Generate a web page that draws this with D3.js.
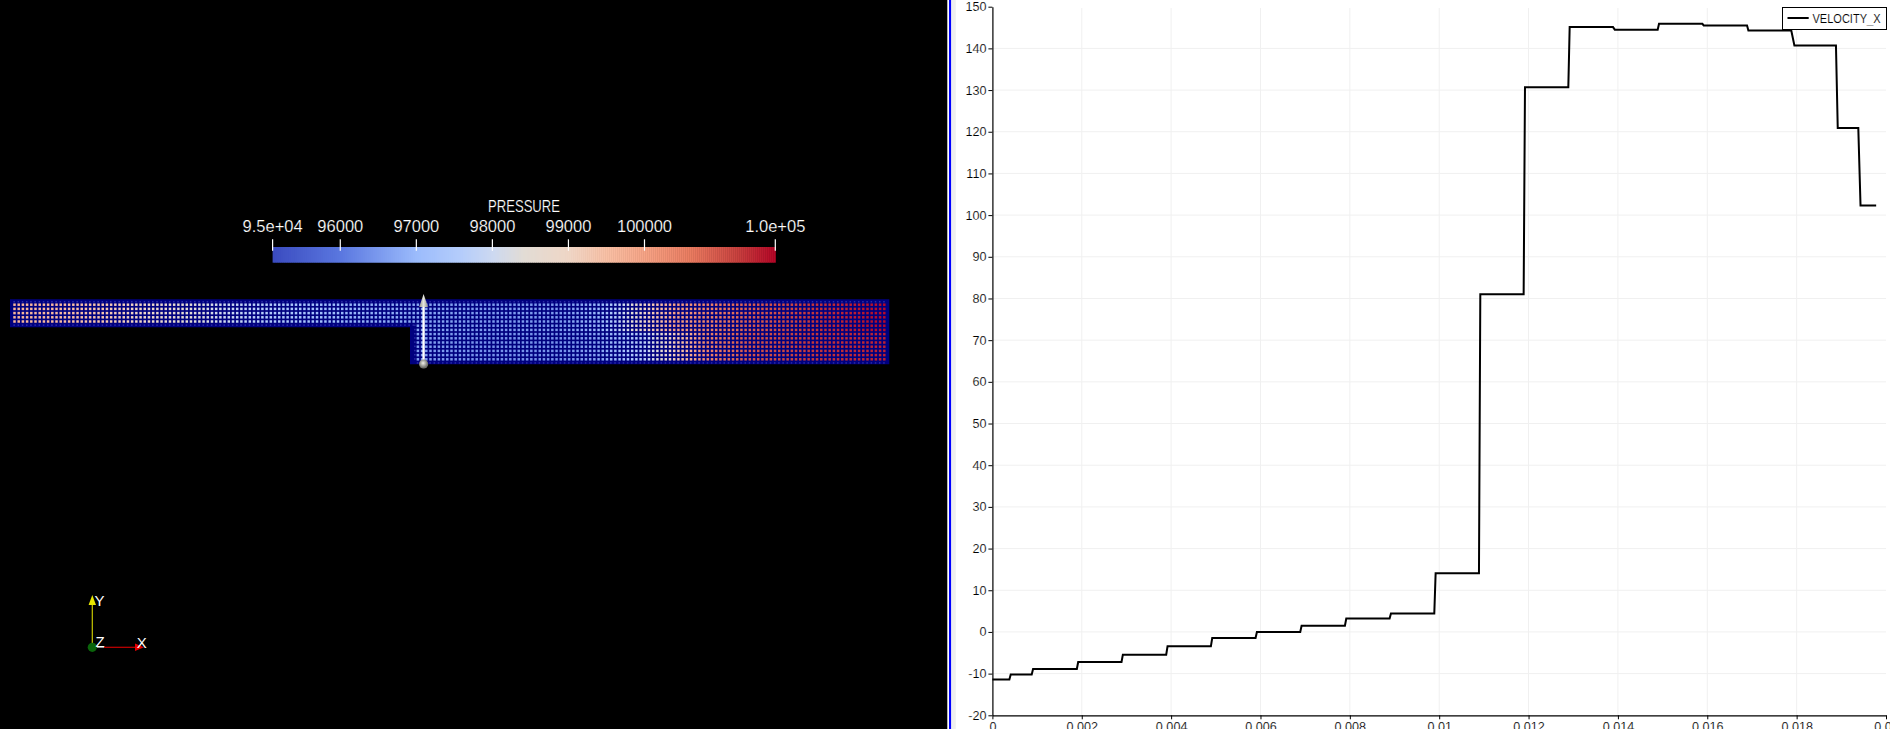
<!DOCTYPE html>
<html><head><meta charset="utf-8">
<script src="https://cdn.jsdelivr.net/npm/d3@7/dist/d3.min.js"></script>
<style>html,body{margin:0;padding:0;background:#000;overflow:hidden}svg{display:block}
text{font-family:"Liberation Sans",sans-serif}</style></head><body>
<svg id="c" width="1890" height="729"></svg>
<script>
// ---- line chart data ----
const stepStart=[0,.00041,.00091,.00192,.00292,.00392,.00492,.00592,.00692,.00792,.00892,.00992,.01092,.01192,.01292,.01393,.01492,.01592,.01692,.01795,.01892,.01943];
const stepEnd=[.00038,.00088,.00189,.00289,.00389,.00489,.00589,.00689,.00789,.00889,.00989,.01089,.01189,.01289,.01389,.01489,.01589,.01689,.01788,.01888,.01938,.01978];
const velocityX=[-11.4,-10.2,-8.9,-7.2,-5.45,-3.45,-1.45,0,1.5,3.2,4.4,14.05,81,130.7,145.1,144.5,145.9,145.5,144.3,140.7,120.9,102.3];
const xTicks=[0,.002,.004,.006,.008,.01,.012,.014,.016,.018,.02];
const yTicks=[-20,-10,0,10,20,30,40,50,60,70,80,90,100,110,120,130,140,150];
const seriesName="VELOCITY_X";
// ---- colour bar data ----
const colorTitle="PRESSURE";
const barMin=95110, barMax=101720;
const barTicks=[95110,96000,97000,98000,99000,100000,101720];
const barLabels=["9.5e+04","96000","97000","98000","99000","100000","1.0e+05"];
const cmapP=[95110,96000,97000,97580,98000,98400,99000,99500,100000,100600,101200,101720];
const cmapC=["#3b4cc0","#5b78e0","#9cbcfc","#b5cdfb","#cdd9f0","#e2dcd5","#efd6c6","#f8bfa4","#f6a385","#ea7b60","#c9423f","#b40426"];
// ---- mesh pressure estimates, per station along the channel (station = column) ----
const nCols=208, upperRows=5, totalRows=14, stepCol=95;
const stationCol=[0,10,20,30,40,50,60,80,94,110,130,140,150,157,165,175,190,208];
const pressureUp=[99700,99600,99400,99000,98500,98000,97500,96900,96700,96500,96500,97000,99000,100000,100500,100900,101300,101700];
const pressureLow=[99400,99300,99000,98600,98100,97700,97200,96800,96600,96400,96400,96700,97700,99200,100500,101000,101300,101500];

const svg=d3.select("#c");
const W=1890,H=729;
// right panel
svg.append("rect").attr("x",947.3).attr("y",0).attr("width",W-947.3).attr("height",H).attr("fill","#fff");
svg.append("rect").attr("x",949).attr("y",0).attr("width",2.3).attr("height",H).attr("fill","#0000ff");
svg.append("rect").attr("x",951.3).attr("y",0).attr("width",4.5).attr("height",H).attr("fill","#efefef");

const x=d3.scaleLinear().domain([0,.02]).range([992.4,1886]);
const y=d3.scaleLinear().domain([-20,150]).range([715.3,6.7]);
const gridG=svg.append("g");
gridG.selectAll("line.v").data(xTicks.slice(1,-1)).join("line").attr("x1",d=>x(d)).attr("x2",d=>x(d)).attr("y1",8).attr("y2",715).attr("stroke","#f0f0f0").attr("stroke-width",1);
gridG.selectAll("line.h").data(yTicks.slice(1,-1)).join("line").attr("y1",d=>y(d)).attr("y2",d=>y(d)).attr("x1",992).attr("x2",1886).attr("stroke","#f0f0f0").attr("stroke-width",1);
const gx=svg.append("g").attr("transform","translate(0,715.3)").call(d3.axisBottom(x).tickValues(xTicks).tickFormat(d=>String(d)).tickSize(4).tickPadding(2.5).tickSizeOuter(0));
const gy=svg.append("g").attr("transform","translate(992.4,0)").call(d3.axisLeft(y).tickValues(yTicks).tickFormat(d=>String(d)).tickSize(4).tickPadding(2).tickSizeOuter(0));
[gx,gy].forEach(g=>{g.attr("font-family",'"Liberation Sans",sans-serif').attr("font-size",12.6);g.selectAll("text").attr("fill","#000").attr("stroke","#fff").attr("stroke-width",.15);g.selectAll("line").attr("stroke","#000").attr("stroke-width",1);g.select(".domain").attr("stroke","#000").attr("stroke-width",1.2)});

const pts=[];velocityX.forEach((v,i)=>{pts.push([stepStart[i],v]);pts.push([stepEnd[i],v])});
svg.append("path").attr("d",d3.line().x(d=>x(d[0])).y(d=>y(d[1]))(pts)).attr("fill","none").attr("stroke","#000").attr("stroke-width",2);

// legend
const lg=svg.append("g");
lg.append("rect").attr("x",1782.5).attr("y",7.5).attr("width",104).attr("height",22).attr("fill","#fff").attr("stroke","#000").attr("stroke-width",1);
lg.append("line").attr("x1",1787.5).attr("x2",1808.7).attr("y1",18).attr("y2",18).attr("stroke","#000").attr("stroke-width",2);
lg.append("text").attr("x",1812.5).attr("y",22.6).attr("font-size",12.6).attr("fill","#000").attr("stroke","#fff").attr("stroke-width",.15).attr("textLength",68).attr("lengthAdjust","spacingAndGlyphs").text(seriesName);

// colour map
const cmap=d3.scaleLinear().domain(cmapP).range(cmapC).interpolate(d3.interpolateRgb).clamp(true);
const barX=d3.scaleLinear().domain([barMin,barMax]).range([272.6,775.3]);
const barSteps=d3.range(0,252).map(i=>barMin+(barMax-barMin)*i/251);
svg.append("g").selectAll("rect").data(barSteps.slice(0,-1)).join("rect")
 .attr("x",d=>barX(d)).attr("y",247).attr("width",2.5).attr("height",15.7).attr("fill",d=>cmap(d));
svg.append("text").attr("x",524).attr("y",212.3).attr("text-anchor","middle").attr("fill","#fff").attr("stroke","#000").attr("stroke-width",.2).attr("font-size",17).attr("textLength",72).attr("lengthAdjust","spacingAndGlyphs").text(colorTitle);
const bt=svg.append("g").selectAll("g").data(barTicks).join("g").attr("transform",d=>`translate(${barX(d)},0)`);
bt.append("line").attr("y1",239.3).attr("y2",250.7).attr("stroke","#fff").attr("stroke-width",1.2);
bt.append("text").data(barLabels).attr("y",232).attr("text-anchor","middle").attr("fill","#fff").attr("stroke","#000").attr("stroke-width",.2).attr("font-size",16.5).text(d=>d);

// mesh
const meshG=svg.append("g");
const navy="#00007f";
meshG.append("path").attr("d","M10,299.3H889.3V364.3H410V327.3H10Z").attr("fill",navy);
const colX=d3.scaleLinear().domain([0,nCols]).range([12.4,886.4]);
const rowY=d3.scaleLinear().domain([0,totalRows]).range([302.6,361.4]);
const pUp=d3.scaleLinear().domain(stationCol).range(pressureUp);
const pLow=d3.scaleLinear().domain(stationCol).range(pressureLow);
// dim boundary-cell dots
const dots=[];
for(let c=0;c<nCols;c++){dots.push({r:-.62,c});if(c>stepCol)dots.push({r:totalRows-.05,c});else dots.push({r:upperRows-.05,c});}
for(let r=upperRows;r<totalRows;r++)dots.push({r,c:stepCol+.35});
meshG.selectAll("rect.dot").data(dots).join("rect").attr("class","dot")
 .attr("x",d=>colX(d.c)+1).attr("y",d=>rowY(d.r)+1).attr("width",1.5).attr("height",1.5).attr("fill","#2b2ba8");
const cells=[];
for(let r=0;r<totalRows;r++)for(let c=(r<upperRows?0:stepCol+1);c<nCols;c++)cells.push({r,c});
meshG.selectAll("rect.cell").data(cells).join("rect").attr("class","cell")
 .attr("x",d=>colX(d.c)+.85).attr("y",d=>rowY(d.r)+.85).attr("width",2.5).attr("height",2.5)
 .attr("fill",d=>cmap(d.r<7?pUp(d.c):pLow(d.c)));

// glyph (probe line)
const defs=svg.append("defs");
const g1=defs.append("linearGradient").attr("id","cone");
g1.append("stop").attr("offset",0).attr("stop-color","#8a8a85");g1.append("stop").attr("offset",.5).attr("stop-color","#e6e6e0");g1.append("stop").attr("offset",1).attr("stop-color","#8a8a85");
const g2=defs.append("radialGradient").attr("id","ball").attr("cx",.45).attr("cy",.4);
g2.append("stop").attr("offset",0).attr("stop-color","#f0f0ea");g2.append("stop").attr("offset",1).attr("stop-color","#6f6f6a");
svg.append("line").attr("x1",423.6).attr("x2",423.6).attr("y1",306).attr("y2",360).attr("stroke","#fff").attr("stroke-width",2.4);
svg.append("path").attr("d","M423.6,294L428,307H419.2Z").attr("fill","url(#cone)");
svg.append("circle").attr("cx",423.6).attr("cy",364).attr("r",4.6).attr("fill","url(#ball)");

// orientation triad
const t=svg.append("g");
t.append("line").attr("x1",92.3).attr("x2",92.3).attr("y1",647).attr("y2",605).attr("stroke","#c8c800").attr("stroke-width",1.2);
t.append("path").attr("d","M92.3,595L96,605H88.6Z").attr("fill","#e6e600");
t.append("line").attr("x1",97).attr("x2",104).attr("y1",647.3).attr("y2",647.3).attr("stroke","#aaa").attr("stroke-width",1.2);
t.append("line").attr("x1",104).attr("x2",135).attr("y1",647.3).attr("y2",647.3).attr("stroke","#c80000").attr("stroke-width",1.2);
t.append("path").attr("d","M144,647.3L135,643.6V651Z").attr("fill","#e60000");
t.append("circle").attr("cx",92.3).attr("cy",647.3).attr("r",4.6).attr("fill","#0a640a");
[["Y",99.5,606],["Z",100,646.5],["X",141.7,648]].forEach(a=>t.append("text").attr("x",a[1]).attr("y",a[2]).attr("text-anchor","middle").attr("fill","#fff").attr("font-size",15).text(a[0]));
</script></body></html>
